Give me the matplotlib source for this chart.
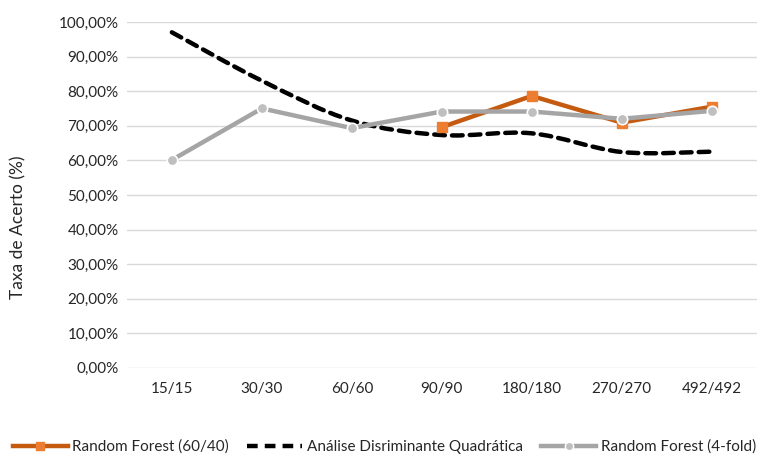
import matplotlib
matplotlib.use("Agg")
import matplotlib.pyplot as plt
import numpy as np
from matplotlib.path import Path
from matplotlib.patches import PathPatch
from matplotlib.lines import Line2D
from matplotlib.ticker import FuncFormatter

categories = ["15/15", "30/30", "60/60", "90/90", "180/180", "270/270", "492/492"]
rf_6040 = [None, None, None, 0.696, 0.786, 0.709, 0.755]
adq = [0.970, 0.830, 0.715, 0.673, 0.678, 0.624, 0.625]
rf_4fold = [0.601, 0.750, 0.693, 0.741, 0.741, 0.720, 0.743]

plt.rcParams["font.family"] = ["Lato", "DejaVu Sans"]
TEXT = "#262626"
DASH = (0, (2.4, 1.6))


def smooth_path(xs, ys, tension=1 / 6):
    # Catmull-Rom style bezier segments, like a spreadsheet "smoothed line"
    verts = [(xs[0], ys[0])]
    codes = [Path.MOVETO]
    n = len(xs)
    for i in range(n - 1):
        x0, y0 = (xs[i - 1], ys[i - 1]) if i > 0 else (xs[i], ys[i])
        x1, y1 = xs[i], ys[i]
        x2, y2 = xs[i + 1], ys[i + 1]
        x3, y3 = (xs[i + 2], ys[i + 2]) if i + 2 < n else (x2, y2)
        c1 = (x1 + (x2 - x0) * tension, y1 + (y2 - y0) * tension)
        c2 = (x2 - (x3 - x1) * tension, y2 - (y3 - y1) * tension)
        verts += [c1, c2, (x2, y2)]
        codes += [Path.CURVE4] * 3
    return Path(verts, codes)


fig = plt.figure(figsize=(7.69, 4.57), dpi=100)
ax = fig.add_axes([0.165, 0.195, 0.819, 0.757])

x = np.arange(len(categories))

ax.add_patch(PathPatch(smooth_path(list(x), adq), fill=False, edgecolor="black",
                       lw=3.2, linestyle=DASH, capstyle="round", zorder=3))

ax.plot(x, rf_4fold, color="#A5A5A5", lw=3.2, marker="o", markersize=7.5,
        markerfacecolor="#BFBFBF", markeredgecolor="white", markeredgewidth=1.2, zorder=5)

rf_x = [i for i, v in enumerate(rf_6040) if v is not None]
rf_y = [v for v in rf_6040 if v is not None]
ax.plot(rf_x, rf_y, color="#C55A11", lw=3.2, marker="s", markersize=7.5,
        markerfacecolor="#ED7D31", markeredgecolor="#ED7D31", zorder=4)

ax.set_xlim(-0.5, len(categories) - 0.5)
ax.set_ylim(0, 1.0)
ax.set_yticks(np.arange(0, 1.01, 0.1))
ax.yaxis.set_major_formatter(FuncFormatter(lambda v, p: f"{v * 100:.2f}%".replace(".", ",")))
ax.set_xticks(x)
ax.set_xticklabels(categories)
ax.tick_params(axis="both", length=0, labelsize=11, colors=TEXT, pad=10)
ax.tick_params(axis="y", pad=6)
ax.grid(axis="y", color="#D9D9D9", lw=1)
ax.set_axisbelow(True)
for s in ax.spines.values():
    s.set_visible(False)
ax.set_ylabel("Taxa de Acerto (%)", fontsize=12.5, color=TEXT)
ax.yaxis.set_label_coords(-0.159, 0.407)

handles = [
    Line2D([0], [0], color="#C55A11", lw=3.2, marker="s", markersize=6,
           markerfacecolor="#ED7D31", markeredgecolor="#ED7D31", label="Random Forest (60/40)"),
    Line2D([0], [0], color="black", lw=3.2, linestyle=DASH, label="Análise Disriminante Quadrática"),
    Line2D([0], [0], color="#A5A5A5", lw=3.2, marker="o", markersize=6,
           markerfacecolor="#BFBFBF", markeredgecolor="white", label="Random Forest (4-fold)"),
]
leg = fig.legend(handles=handles, loc="center", bbox_to_anchor=(0.5, 0.022), ncol=3,
                 frameon=False, fontsize=11, handlelength=3.6, columnspacing=1.2, handletextpad=0.3)
for t in leg.get_texts():
    t.set_color(TEXT)

fig.savefig("out.png", dpi=100)
